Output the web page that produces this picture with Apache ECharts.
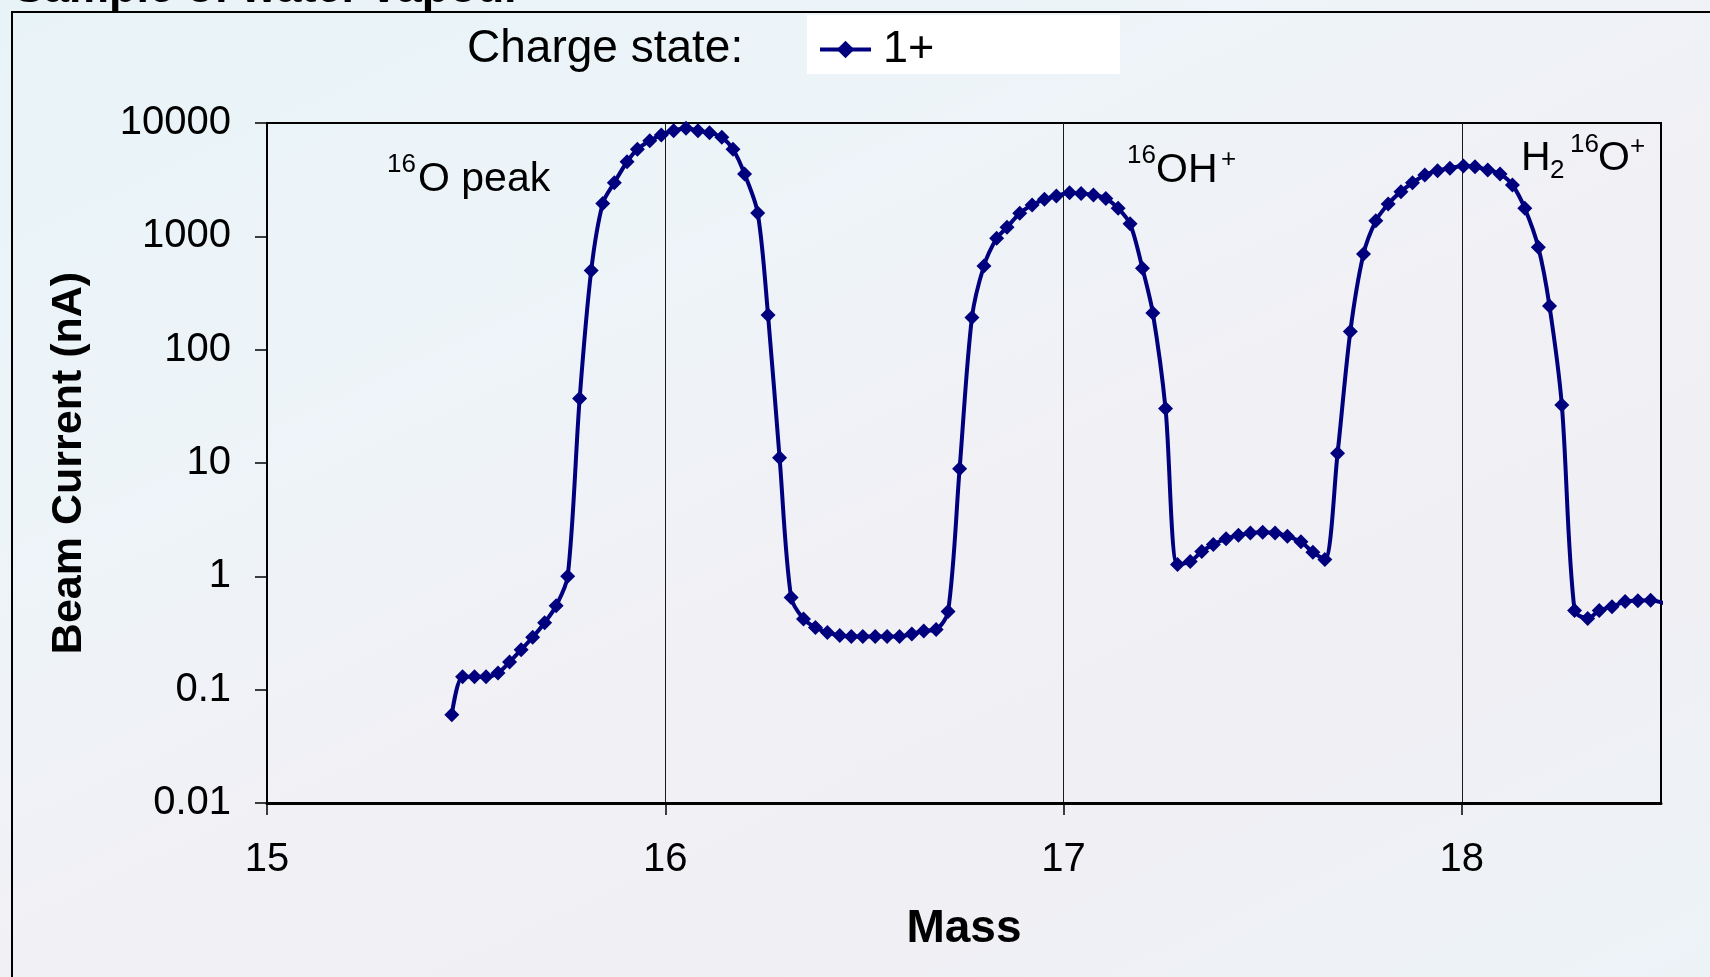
<!DOCTYPE html>
<html>
<head>
<meta charset="utf-8">
<title>Beam current vs mass</title>
<style>
  html, body { margin: 0; padding: 0; width: 1710px; height: 977px; overflow: hidden; }
  #chart {
    width: 1710px; height: 977px;
    background: linear-gradient(155deg, #e8f3f8 0%, #edf4f8 30%, #f1f0f5 55%, #f0eff4 75%, #ecf3f7 100%);
  }
</style>
<script src="https://cdn.jsdelivr.net/npm/echarts@6.0.0/dist/echarts.min.js"></script>
</head>
<body>
<div id="chart"></div>
<script>
// Mass scan of a water-vapour sample, charge state 1+
const mass = [
  15.464, 15.491, 15.521, 15.550, 15.580, 15.609, 15.638, 15.667, 15.697, 15.726,
  15.755, 15.785, 15.814, 15.843, 15.872, 15.904, 15.930, 15.961, 15.990, 16.021,
  16.052, 16.082, 16.111, 16.142, 16.170, 16.199, 16.232, 16.258, 16.287, 16.316,
  16.347, 16.377, 16.407, 16.438, 16.467, 16.496, 16.527, 16.557, 16.588, 16.619,
  16.649, 16.680, 16.710, 16.739, 16.770, 16.800, 16.832, 16.858, 16.890, 16.921,
  16.952, 16.982, 17.015, 17.044, 17.075, 17.106, 17.137, 17.167, 17.198, 17.224,
  17.256, 17.286, 17.318, 17.347, 17.376, 17.408, 17.439, 17.469, 17.500, 17.531,
  17.562, 17.596, 17.626, 17.656, 17.688, 17.720, 17.753, 17.784, 17.815, 17.847,
  17.876, 17.907, 17.939, 17.970, 18.004, 18.033, 18.065, 18.096, 18.127, 18.158,
  18.192, 18.220, 18.251, 18.283, 18.316, 18.345, 18.377, 18.410, 18.442, 18.474,
  18.507
];
const beamCurrent = [
  0.06, 0.13, 0.13, 0.13, 0.14, 0.175, 0.225, 0.29, 0.39, 0.55,
  1.0, 37, 500, 1950, 2970, 4550, 5860, 6980, 7830, 8550,
  8980, 8550, 8220, 7480, 5860, 3550, 1610, 202, 11.1, 0.65,
  0.42, 0.354, 0.32, 0.30, 0.295, 0.295, 0.295, 0.295, 0.295, 0.31,
  0.33, 0.34, 0.49, 8.9, 192, 547, 960, 1200, 1600, 1890,
  2120, 2270, 2430, 2390, 2320, 2160, 1770, 1290, 522, 211,
  30.2, 1.27, 1.35, 1.66, 1.91, 2.15, 2.30, 2.41, 2.45, 2.41,
  2.26, 2.02, 1.63, 1.41, 12.2, 145, 698, 1370, 1930, 2480,
  2970, 3470, 3790, 3980, 4170, 4110, 3850, 3550, 2840, 1770,
  800, 243, 32.5, 0.50, 0.425, 0.50, 0.54, 0.60, 0.61, 0.615,
  0.58
];
const xTickValues = [15, 16, 17, 18];
const xTickLabels = ['15', '16', '17', '18'];
const yTickLabels = ['0.01', '0.1', '1', '10', '100', '1000', '10000'];
const seriesName = '1+';
const legendCaption = 'Charge state:';
const xTitle = 'Mass';
const yTitle = 'Beam Current (nA)';
const pageTitle = 'Sample of water vapour';

const FONT = '"Liberation Sans", Arial, Helvetica, sans-serif';
const NAVY = '#00007f';

const chart = echarts.init(document.getElementById('chart'), null, { renderer: 'canvas' });

function txt(x, y, text, size, weight) {
  return {
    type: 'text', x: x, y: y, silent: true,
    style: {
      text: text, fill: '#000',
      font: (weight ? weight + ' ' : '') + size + 'px ' + FONT,
      textVerticalAlign: 'middle', textAlign: 'left'
    }
  };
}

chart.setOption({
  backgroundColor: 'transparent',
  animation: false,
  grid: {
    left: 267, top: 123, width: 1394, height: 680,
    show: true, borderColor: '#000', borderWidth: 2, backgroundColor: 'transparent'
  },
  legend: {
    data: [seriesName],
    left: 818, top: 27, padding: 0,
    itemWidth: 51, itemHeight: 22,
    selectedMode: false,
    lineStyle: { width: 4 },
    textStyle: { fontFamily: FONT, fontSize: 45, color: '#000', padding: [0, 0, 0, 7] }
  },
  xAxis: {
    type: 'value', min: 15, max: 18.5, interval: 1,
    name: xTitle, nameLocation: 'middle', nameGap: 103,
    nameTextStyle: { fontFamily: FONT, fontSize: 46, fontWeight: 'bold', color: '#000' },
    axisLine: { show: true, onZero: false, lineStyle: { color: '#000', width: 3 } },
    axisTick: { show: true, inside: false, length: 12, customValues: xTickValues,
      lineStyle: { color: '#000', width: 1.5 } },
    axisLabel: {
      margin: 37, fontFamily: FONT, fontSize: 40, color: '#000', customValues: xTickValues,
      formatter: function (v) {
        const i = xTickValues.indexOf(v);
        return i >= 0 ? xTickLabels[i] : '';
      }
    },
    splitLine: { show: true, lineStyle: { color: '#1a1a1a', width: 1 } }
  },
  yAxis: {
    type: 'log', logBase: 10, min: 0.01, max: 10000,
    name: yTitle, nameLocation: 'middle', nameGap: 176, nameRotate: 90,
    nameTextStyle: { fontFamily: FONT, fontSize: 43, fontWeight: 'bold', color: '#000' },
    axisLine: { show: true, lineStyle: { color: '#000', width: 2 } },
    axisTick: { show: true, inside: false, length: 12, lineStyle: { color: '#000', width: 1.5 } },
    axisLabel: {
      margin: 36, fontFamily: FONT, fontSize: 40, color: '#000',
      formatter: function (v) {
        const i = Math.round(Math.log10(v)) + 2;
        return yTickLabels[i] || '';
      }
    },
    minorTick: { show: false },
    splitLine: { show: false }
  },
  series: [{
    name: seriesName,
    type: 'line',
    data: mass.map(function (m, i) { return [m, beamCurrent[i]]; }),
    smooth: 0.3,
    clip: true,
    symbol: 'diamond',
    symbolSize: 15,
    showAllSymbol: true,
    lineStyle: { color: NAVY, width: 4 },
    itemStyle: { color: NAVY, borderWidth: 0 },
    z: 5
  }],
  graphic: [
    // page frame and heading
    { type: 'rect', silent: true, z: -1,
      shape: { x: 12, y: 12, width: 1760, height: 1000 },
      style: { fill: 'none', stroke: '#000', lineWidth: 2 } },
    txt(14, -10, pageTitle, 45, 'bold'),
    // legend panel
    { type: 'rect', silent: true, z: -1,
      shape: { x: 807, y: 15, width: 313, height: 59 },
      style: { fill: '#ffffff' } },
    txt(467, 49, legendCaption, 46),
    // peak annotations
    txt(387, 165, '16', 26),
    txt(418, 180, 'O peak', 41),
    txt(1127, 156, '16', 26),
    txt(1156, 171, 'OH', 41),
    txt(1221, 160, '+', 26),
    txt(1521, 159, 'H', 41),
    txt(1550, 171, '2', 26),
    txt(1570, 145, '16', 26),
    txt(1598, 159, 'O', 41),
    txt(1630, 147, '+', 26)
  ]
});
</script>
</body>
</html>
